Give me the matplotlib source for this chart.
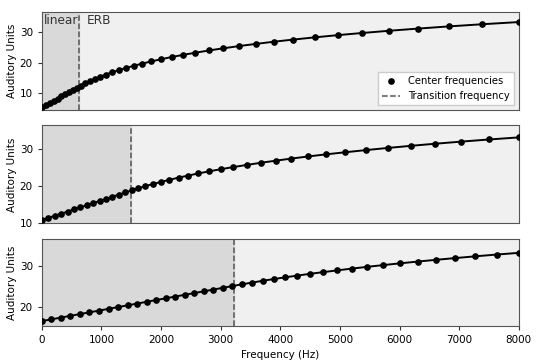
import matplotlib.pyplot as plt
import numpy as np

# transition frequencies (Hz) per panel
transition_hz = [625, 1500, 3230]

# center frequencies (Hz) and auditory units
freqs_1 = [0, 65.6, 131.3, 196.9, 262.5, 328.1, 393.8, 459.4, 525.0, 590.6,
           656.9, 727.7, 804.1, 886.6, 975.7, 1071.9, 1175.9, 1288.1, 1409.3, 1540.1,
           1681.5, 1834.1, 1998.9, 2176.8, 2369.0, 2576.6, 2800.7, 3042.8, 3304.1, 3586.4,
           3891.2, 4220.3, 4575.8, 4959.6, 5374.1, 5821.7, 6305.1, 6827.1, 7390.8, 8000]
units_1 = [5.44, 6.15, 6.86, 7.58, 8.29, 9.01, 9.72, 10.44, 11.15, 11.86,
           12.58, 13.29, 14.01, 14.72, 15.44, 16.15, 16.87, 17.58, 18.29, 19.01,
           19.72, 20.44, 21.15, 21.87, 22.58, 23.29, 24.01, 24.72, 25.44, 26.15,
           26.87, 27.58, 28.29, 29.01, 29.72, 30.44, 31.15, 31.87, 32.58, 33.29]

freqs_2 = [0, 107.6, 215.2, 322.9, 430.5, 538.1, 645.7, 753.3, 861.0, 968.6,
           1076.2, 1183.8, 1291.4, 1399.1, 1506.6, 1618.1, 1736.7, 1863.0, 1997.3, 2140.3,
           2292.5, 2454.5, 2626.8, 2810.2, 3005.4, 3213.1, 3434.2, 3669.5, 3919.9, 4186.4,
           4469.9, 4771.8, 5093.0, 5434.7, 5798.5, 6185.7, 6597.7, 7036.2, 7502.8, 8000]
units_2 = [10.73, 11.31, 11.89, 12.47, 13.04, 13.62, 14.20, 14.78, 15.36, 15.94,
           16.52, 17.09, 17.67, 18.25, 18.83, 19.41, 19.99, 20.57, 21.14, 21.72,
           22.30, 22.88, 23.46, 24.04, 24.62, 25.19, 25.77, 26.35, 26.93, 27.51,
           28.09, 28.67, 29.24, 29.82, 30.40, 30.98, 31.56, 32.14, 32.72, 33.29]

freqs_3 = [0, 159.7, 319.4, 479.1, 638.8, 798.5, 958.1, 1117.8, 1277.5, 1437.2,
           1596.9, 1756.6, 1916.3, 2076.0, 2235.7, 2395.4, 2555.0, 2714.7, 2874.4, 3034.1,
           3193.8, 3355.6, 3525.0, 3702.3, 3888.1, 4082.6, 4286.3, 4499.7, 4723.1, 4957.1,
           5202.1, 5458.8, 5727.5, 6008.9, 6303.7, 6612.4, 6935.6, 7274.2, 7628.7, 8000]
units_3 = [16.56, 16.99, 17.42, 17.85, 18.28, 18.71, 19.13, 19.56, 19.99, 20.42,
           20.85, 21.28, 21.71, 22.14, 22.57, 23.00, 23.42, 23.85, 24.28, 24.71,
           25.14, 25.57, 26.00, 26.43, 26.86, 27.29, 27.72, 28.15, 28.57, 29.00,
           29.43, 29.86, 30.29, 30.72, 31.15, 31.58, 32.01, 32.44, 32.87, 33.29]

all_freqs = [freqs_1, freqs_2, freqs_3]
all_units = [units_1, units_2, units_3]
y_limits = [(4.55, 36.6), (9.8, 36.6), (15.45, 36.6)]
y_ticks = [[10, 20, 30], [10, 20, 30], [20, 30]]

# axes boxes in figure fractions (left, bottom, width, height)
boxes = [(0.078, 0.695, 0.888, 0.272),
         (0.078, 0.381, 0.888, 0.272),
         (0.078, 0.098, 0.888, 0.239)]

fig = plt.figure(figsize=(5.37, 3.61), dpi=100)

for i in range(3):
    ax = fig.add_axes(boxes[i])
    ax.set_facecolor('#f0f0f0')
    ax.axvspan(0, transition_hz[i], color='#d9d9d9', zorder=0)
    ax.plot(all_freqs[i], all_units[i], color='black', linewidth=1.4, zorder=2)
    ax.plot(all_freqs[i], all_units[i], 'o', color='black', markersize=3.8,
            label='Center frequencies', zorder=3)
    ax.axvline(transition_hz[i], color='#555555', linestyle='--', linewidth=1.1,
               label='Transition frequency', zorder=1)
    ax.set_xlim(0, 8000)
    ax.set_ylim(*y_limits[i])
    ax.set_yticks(y_ticks[i])
    ax.set_ylabel('Auditory Units', fontsize=7.5, labelpad=2)
    ax.tick_params(labelsize=7.5, length=3, color='#333333')
    for s in ax.spines.values():
        s.set_color('#555555')
    if i < 2:
        ax.set_xticks([])
    else:
        ax.set_xticks(np.arange(0, 8001, 1000))
        ax.set_xlabel('Frequency (Hz)', fontsize=7.5)
    if i == 0:
        ax.text(40, 35.9, 'linear', fontsize=8.7, color='#333333', va='top')
        ax.text(760, 35.9, 'ERB', fontsize=8.7, color='#333333', va='top')
        ax.legend(loc='lower right', fontsize=7.2, framealpha=1, edgecolor='#cccccc',
                  fancybox=False, handlelength=1.8)

plt.savefig('out.png', dpi=100)
